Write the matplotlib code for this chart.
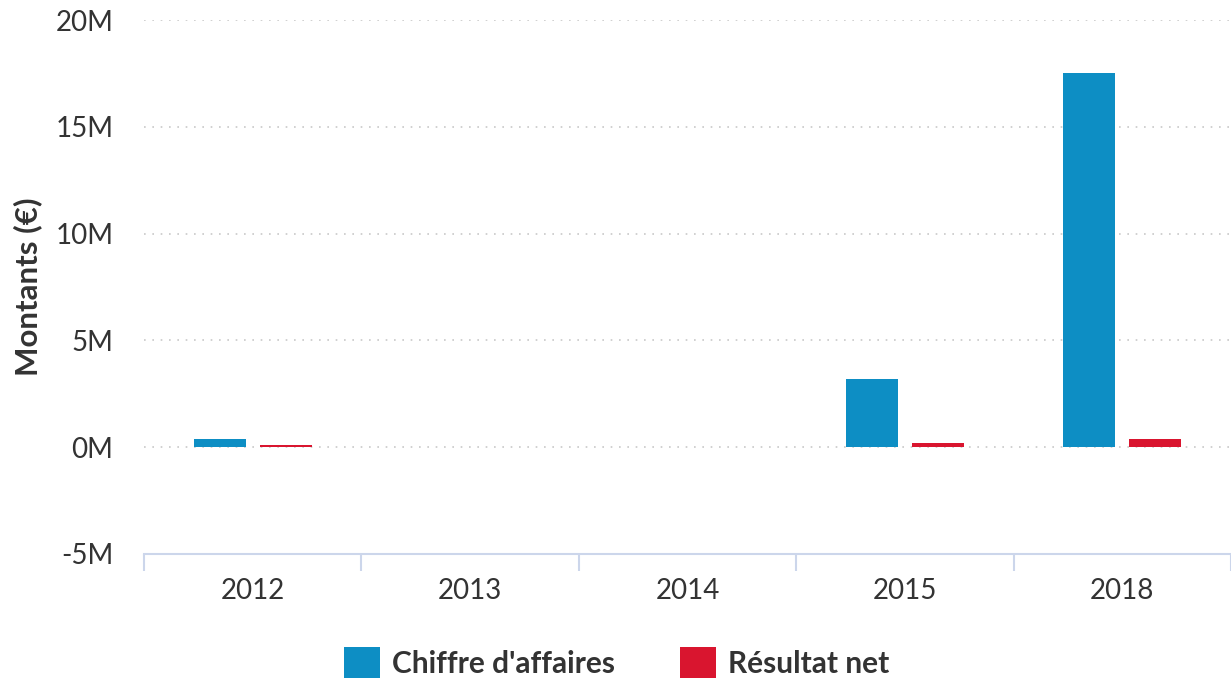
import numpy as np
import matplotlib.pyplot as plt
from matplotlib.ticker import FuncFormatter

plt.rcParams['font.family'] = ['Lato', 'DejaVu Sans']

years = ["2012", "2013", "2014", "2015", "2018"]
chiffre = [0.37, 0, 0, 3.19, 17.5]      # millions d'euros
resultat = [0.12, 0, 0, 0.21, 0.40]     # millions d'euros

blue = "#0d8ec4"
red = "#d9152f"
text_col = "#333333"
axis_col = "#ccd6eb"

fig = plt.figure(figsize=(12.31, 6.79), dpi=100)
ax = fig.add_axes([0.117, 0.1841, 0.883, 0.7864])

x = np.arange(len(years))
w = 0.238
ax.bar(x - 0.152, chiffre, width=w, color=blue, label="Chiffre d'affaires", zorder=3)
ax.bar(x + 0.152, resultat, width=w, color=red, label="Résultat net", zorder=3)

ax.set_ylim(-5, 20)
ax.set_yticks([-5, 0, 5, 10, 15, 20])
ax.yaxis.set_major_formatter(FuncFormatter(lambda v, p: f"{v:.0f}M"))
ax.set_xlim(-0.5, 4.48)
ax.set_xticks(x)
ax.set_xticklabels(years)
ax.set_xticks(np.arange(-0.5, 5, 1), minor=True)

ax.grid(axis='y', linestyle=(0, (1, 4)), color="#c8c8c8", linewidth=1.2, zorder=0)
for s in ['top', 'right', 'left']:
  ax.spines[s].set_visible(False)
ax.spines['bottom'].set_color(axis_col)
ax.spines['bottom'].set_linewidth(1.5)

ax.tick_params(axis='y', length=0, labelsize=20, labelcolor=text_col, pad=22)
ax.tick_params(axis='x', which='major', length=0, labelsize=20, labelcolor=text_col, pad=17)
ax.tick_params(axis='x', which='minor', length=12, width=1.5, color=axis_col)

ax.set_ylabel("Montants (€)", fontsize=22.5, color=text_col)
ax.yaxis.label.set_fontweight('bold')
ax.yaxis.set_label_coords(-0.094, 0.5)

leg = fig.legend(loc='lower center', bbox_to_anchor=(0.501, -0.038), ncol=2, frameon=False,
                 prop={'size': 21.5, 'weight': 'bold'}, handlelength=1.2, handleheight=1.2,
                 handletextpad=0.4, columnspacing=2.2)
for t in leg.get_texts():
  t.set_color(text_col)

fig.savefig("out.png", dpi=100)
